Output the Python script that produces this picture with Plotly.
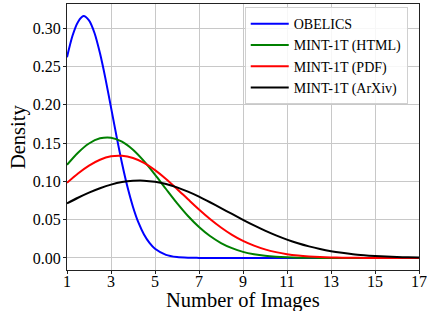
import plotly.graph_objects as go

# x grid for the broad MINT-1T curves
x_vals = [1 + 0.5 * i for i in range(33)]
# finer grid for the narrow OBELICS curve
x_obelics = [1, 1.25, 1.5, 1.75, 2, 2.25, 2.5, 2.75, 3, 3.25, 3.5, 3.75, 4, 4.25, 4.5, 4.75,
             5, 5.5, 6, 6.5, 7, 8, 9, 10, 11, 12, 13, 14, 15, 16, 17]

obelics = [0.262, 0.290, 0.308, 0.3156, 0.310, 0.2936, 0.267, 0.2337, 0.1965, 0.1590, 0.1236,
           0.0925, 0.0666, 0.0460, 0.0306, 0.0196, 0.0120, 0.0041, 0.0012, 0.0003, 0.0001,
           0.0, 0.0, 0.0, 0.0, 0.0, 0.0, 0.0, 0.0, 0.0, 0.0]
mint_html = [0.1216, 0.1374, 0.1494, 0.1561, 0.1570, 0.1518, 0.1412, 0.1263, 0.1087, 0.0900,
             0.0716, 0.0548, 0.0404, 0.0286, 0.0195, 0.0128, 0.0080, 0.0049, 0.0028, 0.0016,
             0.0009, 0.0004, 0.0002, 0.0001] + [0.0] * 9
mint_pdf = [0.098, 0.1102, 0.1205, 0.1282, 0.1326, 0.1333, 0.1304, 0.1240, 0.1146, 0.1031,
            0.0901, 0.0766, 0.0633, 0.0509, 0.0398, 0.0302, 0.0223, 0.0161, 0.0112, 0.0076,
            0.0050, 0.0032, 0.0020, 0.0012, 0.0007, 0.0004, 0.0002, 0.0001, 0.0001, 0.0,
            0.0, 0.0, 0.0]
mint_arxiv = [0.0712, 0.0786, 0.0853, 0.0910, 0.0957, 0.0990, 0.1007, 0.1009, 0.0994, 0.0965,
              0.0921, 0.0865, 0.0800, 0.0727, 0.0651, 0.0574, 0.0498, 0.0425, 0.0357, 0.0295,
              0.0240, 0.0192, 0.0151, 0.0117, 0.0089, 0.0067, 0.0049, 0.0036, 0.0026, 0.0018,
              0.0013, 0.0009, 0.0006]

series_names = ["OBELICS", "MINT-1T (HTML)", "MINT-1T (PDF)", "MINT-1T (ArXiv)"]
series_x = [x_obelics, x_vals, x_vals, x_vals]
series_values = [obelics, mint_html, mint_pdf, mint_arxiv]
series_colors = ["#0000ff", "#008000", "#ff0000", "#000000"]

x_ticks = [1, 3, 5, 7, 9, 11, 13, 15, 17]
y_ticks = [0.0, 0.05, 0.10, 0.15, 0.20, 0.25, 0.30]

FONT = "Liberation Serif, Times New Roman, serif"

fig = go.Figure()
for name, xs, vals, col in zip(series_names, series_x, series_values, series_colors):
    fig.add_trace(go.Scatter(x=xs, y=vals, name=name, mode="lines",
                             line=dict(color=col, width=2, shape="spline", smoothing=0.8)))

axis_common = dict(showline=True, linecolor="#222222", linewidth=1, mirror=True,
                   showgrid=True, gridcolor="#c8c8c8", gridwidth=1,
                   ticks="outside", ticklen=3, tickcolor="#222222",
                   zeroline=False, automargin=False,
                   tickfont=dict(family=FONT, size=16, color="black"))

fig.update_layout(
    width=427, height=311,
    margin=dict(l=67, r=8, t=4, b=41),
    paper_bgcolor="white", plot_bgcolor="white",
    font=dict(family=FONT, color="black"),
    xaxis=dict(range=[1, 17], tickvals=x_ticks, ticktext=[str(t) for t in x_ticks],
               ticklabeloverflow="allow", ticklabelstandoff=-6, **axis_common),
    yaxis=dict(range=[-0.0157, 0.3314], tickvals=y_ticks,
               ticktext=["%.2f" % t for t in y_ticks], ticklabelstandoff=-1, **axis_common),
    legend=dict(x=0.968, y=0.988, xanchor="right", yanchor="top",
                bgcolor="rgba(255,255,255,0.85)", bordercolor="#d0d0d0", borderwidth=1,
                font=dict(family=FONT, size=14, color="black"), tracegroupgap=0,
                itemwidth=38),
    showlegend=True,
    annotations=[
        dict(text="Number of Images", xref="paper", yref="paper", x=0.5, y=-0.065,
             xanchor="center", yanchor="top", showarrow=False,
             font=dict(family=FONT, size=20.5, color="black")),
        dict(text="Density", xref="paper", yref="paper", x=-0.139, y=0.5,
             xanchor="center", yanchor="middle", textangle=-90, showarrow=False,
             font=dict(family=FONT, size=20.5, color="black")),
    ],
)

fig.write_html("out.html", config={"displayModeBar": False})

# remove the default page margin so the 427x311 figure fills the window exactly
with open("out.html", "r", encoding="utf-8") as f:
    html = f.read()
html = html.replace("<head>", "<head><style>html,body{margin:0;padding:0;overflow:hidden;}</style>", 1)
with open("out.html", "w", encoding="utf-8") as f:
    f.write(html)
